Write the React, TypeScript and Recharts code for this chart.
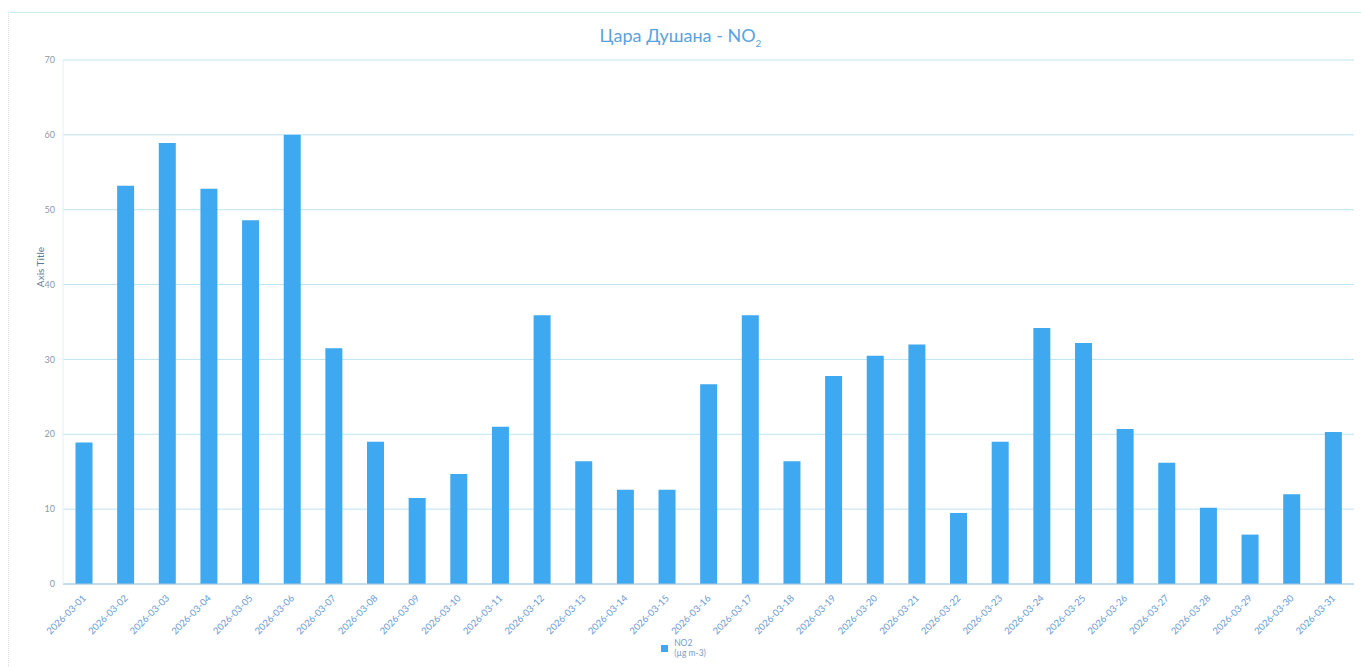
import React from 'react';
import { BarChart, Bar, XAxis, YAxis, CartesianGrid, Legend } from 'recharts';

const dates = [
  '2026-03-01','2026-03-02','2026-03-03','2026-03-04','2026-03-05','2026-03-06','2026-03-07','2026-03-08',
  '2026-03-09','2026-03-10','2026-03-11','2026-03-12','2026-03-13','2026-03-14','2026-03-15','2026-03-16',
  '2026-03-17','2026-03-18','2026-03-19','2026-03-20','2026-03-21','2026-03-22','2026-03-23','2026-03-24',
  '2026-03-25','2026-03-26','2026-03-27','2026-03-28','2026-03-29','2026-03-30','2026-03-31',
];
const no2Values = [
  18.9, 53.2, 58.9, 52.8, 48.6, 60.0, 31.5, 19.0,
  11.5, 14.7, 21.0, 35.9, 16.4, 12.6, 12.6, 26.7,
  35.9, 16.4, 27.8, 30.5, 32.0, 9.5, 19.0, 34.2,
  32.2, 20.7, 16.2, 10.2, 6.6, 12.0, 20.3,
];
const yTicks = [0, 10, 20, 30, 40, 50, 60, 70];

const data = dates.map((d, i) => ({ date: d, no2: no2Values[i] }));

const FONT = 'Lato, "Open Sans", sans-serif';
const BAR = '#3ea9f0';

const XTick = (props: any) => {
  const { x, y, payload } = props;
  return (
    <g transform={`translate(${x},${y + 4})`}>
      <text x={0} y={0} dy={4} textAnchor="end" transform="rotate(-45)" fontSize={9.5} fill="#6a9bd0" fontFamily={FONT}>
        {payload.value}
      </text>
    </g>
  );
};

const AxisTitle = (props: any) => {
  const vb = props.viewBox || {};
  const cx = (vb.x || 0) + 31;
  const cy = (vb.y || 0) + (vb.height || 0) / 2 - 55;
  return (
    <text x={cx} y={cy} transform={`rotate(-90, ${cx}, ${cy})`} textAnchor="middle" fontSize={10} fill="#5c7a95" fontFamily={FONT}>
      Axis Title
    </text>
  );
};

const LegendContent = () => (
  <div style={{ display: 'flex', justifyContent: 'center', fontFamily: FONT, fontSize: 8.5, color: '#7a9cc8', marginTop: 6 }}>
    <div style={{ display: 'flex', alignItems: 'center', marginLeft: 0 }}>
      <div style={{ width: 7, height: 7, background: BAR, marginRight: 6 }} />
      <div style={{ lineHeight: '10px' }}>
        <div>NO2</div>
        <div>(µg m-3)</div>
      </div>
    </div>
  </div>
);

export default function App() {
  return (
    <div style={{ position: 'absolute', left: 0, top: 0, width: 1361, height: 667, background: '#fff' }}>
      <div style={{ position: 'absolute', left: 10, top: 12, width: 1351, height: 0, borderTop: '1px solid #c8eef6' }} />
      <div style={{ position: 'absolute', left: 8, top: 12, width: 0, height: 655, borderLeft: '1px dotted #d8dde0' }} />
      <div style={{ position: 'absolute', left: 0, top: 24, width: 1361, textAlign: 'center', fontFamily: FONT, fontSize: 18, color: '#5ba3dc' }}>
        Цара Душана - NO<sub style={{ fontSize: 10 }}>2</sub>
      </div>
      <BarChart
        width={1361}
        height={667}
        data={data}
        margin={{ top: 60, right: 7, left: 13, bottom: 5 }}
        barCategoryGap="30%"
        style={{ position: 'absolute', left: 0, top: 0 }}
      >
        <CartesianGrid vertical={false} stroke="#bfe3f3" strokeWidth={1} />
        <XAxis
          dataKey="date"
          interval={0}
          height={48}
          tick={<XTick />}
          tickLine={false}
          axisLine={{ stroke: '#a9c6dc' }}
        />
        <YAxis
          width={50}
          domain={[0, 70]}
          ticks={yTicks}
          tickLine={false}
          axisLine={{ stroke: '#e3eef5' }}
          tick={{ fontSize: 9, fill: '#8a9aa8', fontFamily: FONT }}
          label={<AxisTitle />}
        />
        <Legend verticalAlign="bottom" height={30} content={<LegendContent />} />
        <Bar dataKey="no2" name="NO2 (µg m-3)" fill={BAR} isAnimationActive={false} />
      </BarChart>
    </div>
  );
}
